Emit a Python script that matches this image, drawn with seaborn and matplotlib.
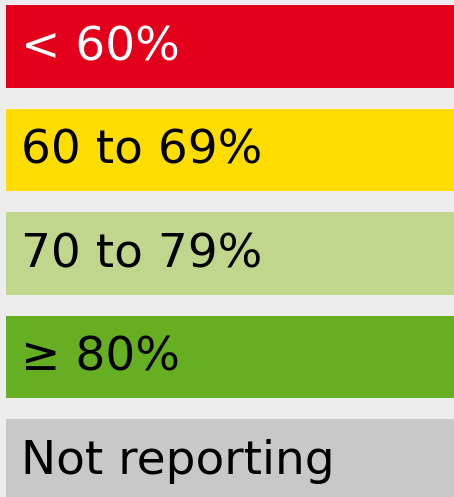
import matplotlib
matplotlib.use("Agg")
import matplotlib.pyplot as plt
import seaborn as sns
import pandas as pd

categories = ["< 60%", "60 to 69%", "70 to 79%", "\u2265 80%", "Not reporting"]
bar_values = [1, 1, 1, 1, 1]
bar_colors = ["#E2001A", "#FFDD00", "#C0D68C", "#66AE22", "#C8C8C8"]
text_colors = ["white", "black", "black", "black", "black"]

sns.set_theme(style="white")
plt.rcParams["font.family"] = ["DejaVu Sans"]

df = pd.DataFrame({"label": categories, "value": bar_values})

fig = plt.figure(figsize=(4.54, 4.97), dpi=100)
fig.patch.set_facecolor("#EDEDED")
ax = fig.add_axes([0, 0, 1, 1])
ax.set_facecolor("#EDEDED")

sns.barplot(data=df, x="value", y="label", hue="label", palette=bar_colors,
            orient="h", width=0.8, legend=False, ax=ax, saturation=1,
            linewidth=0, edgecolor="none")

ax.set_xlim(-6 / 448, 1)
ax.set_ylim(4.353, -0.449)
for i, (lab, tc) in enumerate(zip(categories, text_colors)):
    ax.text(0.034, i + 0.01, lab, color=tc, fontsize=33.8,
            va="center", ha="left")

ax.set_axis_off()
fig.savefig("out.png", dpi=100, facecolor=fig.get_facecolor())
